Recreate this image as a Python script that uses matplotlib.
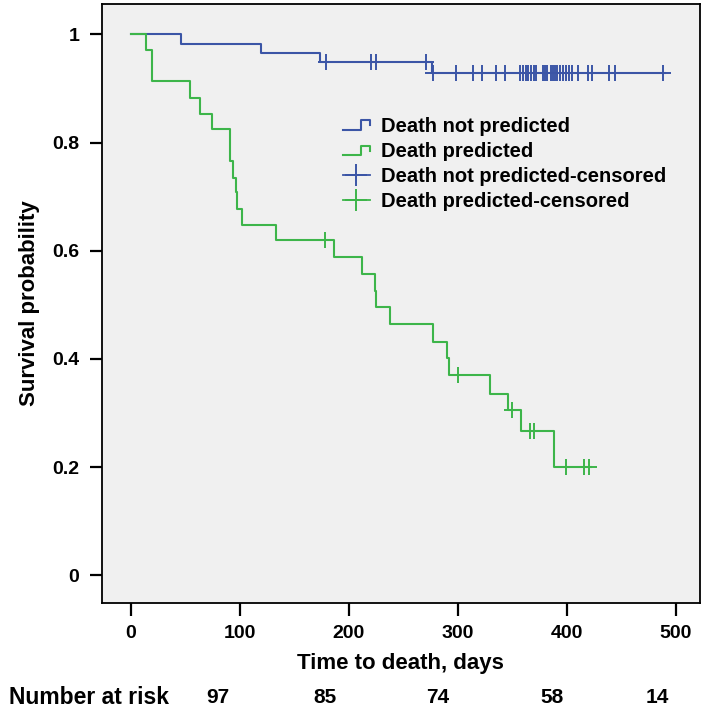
import numpy as np
import matplotlib
matplotlib.use("Agg")
import matplotlib.pyplot as plt
from matplotlib.lines import Line2D
from matplotlib.legend_handler import HandlerBase
from matplotlib.transforms import blended_transform_factory

# Kaplan-Meier steps
blue_t = [0, 46, 119, 173, 276]
blue_s = [1.0, 0.982, 0.965, 0.948, 0.928]
blue_end = 490
blue_cens = [179, 220, 225, 271, 277, 298, 314, 322, 335, 343, 357, 360, 362, 364,
             367, 370, 372, 378, 380, 382, 385, 387, 389, 391, 394, 396, 399, 402,
             405, 410, 419, 423, 439, 444, 488]

green_t = [0, 14, 19, 54, 63, 74, 91, 94, 96, 97, 102, 133, 186, 212, 224, 225,
           238, 277, 290, 292, 329, 346, 358, 388]
green_s = [1.0, 0.971, 0.914, 0.883, 0.853, 0.825, 0.765, 0.734, 0.708, 0.677,
           0.648, 0.619, 0.588, 0.557, 0.526, 0.496, 0.465, 0.432, 0.401, 0.371,
           0.335, 0.305, 0.267, 0.200]
green_end = 422
green_cens = [178, 300, 350, 366, 370, 399, 416, 420]

risk_x = [80, 178, 281, 386, 483]
risk_n = [97, 85, 74, 58, 14]

yticks = [0, 0.2, 0.4, 0.6, 0.8, 1]
ytick_labels = ["0", "0.2", "0.4", "0.6", "0.8", "1"]
xticks = [0, 100, 200, 300, 400, 500]

blue = "#3b55a6"
green = "#3db54a"

plt.rcParams['font.family'] = ['Liberation Sans', 'DejaVu Sans']


def level_at(ts, ss, t):
    i = np.searchsorted(ts, t, side='right') - 1
    return ss[i]


class StepHandler(HandlerBase):
    # little step glyph like the SPSS legend
    def create_artists(self, legend, orig_handle, xdescent, ydescent, width, height, fontsize, trans):
        x0, x1 = -xdescent, -xdescent + width
        y0, y1 = -ydescent + 0.1 * height, -ydescent + 0.8 * height
        xm = x0 + 0.68 * width
        xs = [x0, xm, xm, x1, x1]
        ys = [y0, y0, y1, y1, y0 + 0.35 * height]
        ln = Line2D(xs, ys, color=orig_handle.get_color(), lw=orig_handle.get_linewidth(), transform=trans)
        return [ln]


fig = plt.figure(figsize=(7.09, 7.2), dpi=100)
ax = fig.add_axes([0.1432, 0.1625, 0.8440, 0.8319])
ax.set_facecolor("#f0f0f0")

bt = np.array(blue_t + [blue_end])
bs = np.array(blue_s + [blue_s[-1]])
gt = np.array(green_t + [green_end])
gs = np.array(green_s + [green_s[-1]])

l1, = ax.step(bt, bs, where='post', color=blue, lw=1.5)
l2, = ax.step(gt, gs, where='post', color=green, lw=1.5)

by = [level_at(blue_t, blue_s, t) for t in blue_cens]
gy = [level_at(green_t, green_s, t) for t in green_cens]
ax.plot(blue_cens, by, ls='none', marker='+', ms=11, mew=1.4, color=blue)
ax.plot(green_cens, gy, ls='none', marker='+', ms=11, mew=1.4, color=green)

h3 = Line2D([], [], color=blue, lw=1.3, marker='+', ms=16, mew=1.4)
h4 = Line2D([], [], color=green, lw=1.3, marker='+', ms=16, mew=1.4)

ax.legend([l1, l2, h3, h4],
          ["Death not predicted", "Death predicted",
           "Death not predicted-censored", "Death predicted-censored"],
          handler_map={l1: StepHandler(), l2: StepHandler()},
          loc='upper left', bbox_to_anchor=(0.403, 0.812), frameon=False,
          prop={'weight': 'bold', 'size': 14.5}, handlelength=1.35, handletextpad=0.55,
          labelspacing=0.31, borderpad=0, borderaxespad=0)

ax.set_xlim(-27, 522)
ax.set_ylim(-0.051, 1.056)
ax.set_xticks(xticks)
ax.set_yticks(yticks)
ax.set_yticklabels(ytick_labels)
ax.tick_params(direction='out', length=9, width=1.6, labelsize=14, pad=7)
for lab in ax.get_xticklabels() + ax.get_yticklabels():
    lab.set_fontweight('bold')
for sp in ax.spines.values():
    sp.set_linewidth(1.3)

ax.set_ylabel("Survival probability", fontsize=16, fontweight='bold', labelpad=9)
ax.set_xlabel("Time to death, days", fontsize=16, fontweight='bold', labelpad=8)

fig.text(0.012, 0.031, "Number at risk", fontsize=16.5, fontweight='bold', va='center', ha='left')
tr = blended_transform_factory(ax.transData, fig.transFigure)
for x, n in zip(risk_x, risk_n):
    ax.text(x, 0.031, str(n), transform=tr, fontsize=15, fontweight='bold',
            ha='center', va='center')

fig.savefig("out.png", dpi=100, facecolor='white')
